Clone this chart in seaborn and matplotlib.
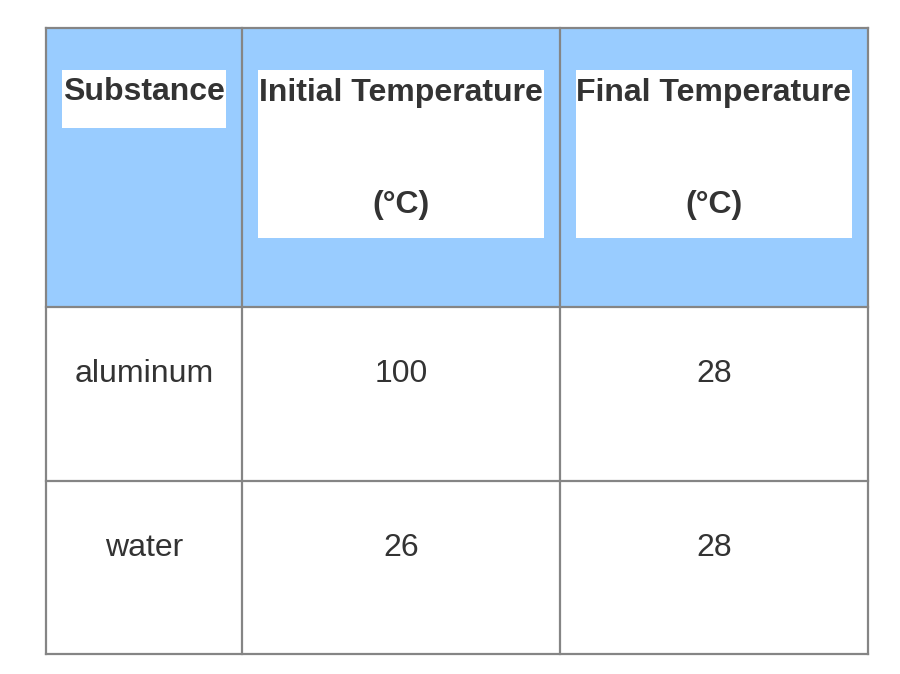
import matplotlib
matplotlib.use("Agg")
import matplotlib.pyplot as plt
from matplotlib.patches import Rectangle
import seaborn as sns

sns.set_theme(style="white")
plt.rcParams["font.family"] = ["Liberation Sans", "DejaVu Sans"]

# table content
header_top = ["Substance", "Initial Temperature", "Final Temperature"]
header_units = ["", "(°C)", "(°C)"]
substances = ["aluminum", "water"]
initial_temps = [100, 26]
final_temps = [28, 28]

# layout in pixels
col_edges = [46, 242, 560, 868]
row_edges = [28, 307, 481, 654]
highlight = [(62, 226, 70, 128), (258, 544, 70, 238), (576, 852, 70, 238)]
HEAD_BG = "#99CCFF"
BORDER = "#858585"
TXT = "#333333"
FS = 23

fig = plt.figure(figsize=(9, 6.74), dpi=100)
ax = fig.add_axes([0, 0, 1, 1])
ax.set_xlim(0, 900)
ax.set_ylim(674, 0)
ax.axis("off")

# header background
ax.add_patch(Rectangle((col_edges[0], row_edges[0]), col_edges[-1] - col_edges[0],
                       row_edges[1] - row_edges[0], facecolor=HEAD_BG, edgecolor="none"))
for x0, x1, y0, y1 in highlight:
    ax.add_patch(Rectangle((x0, y0), x1 - x0, y1 - y0, facecolor="white", edgecolor="none"))

# grid lines
for x in col_edges:
    ax.plot([x, x], [row_edges[0], row_edges[-1]], color=BORDER, lw=1.6, solid_capstyle="projecting")
for y in row_edges:
    ax.plot([col_edges[0], col_edges[-1]], [y, y], color=BORDER, lw=1.6, solid_capstyle="projecting")

centers = [(col_edges[i] + col_edges[i + 1]) / 2 for i in range(3)]
centers[0] = 144

for c, top, unit in zip(centers, header_top, header_units):
    ax.text(c, 89, top, ha="center", va="center_baseline", fontsize=FS,
            fontweight="bold", color=TXT)
    if unit:
        ax.text(c, 201, unit, ha="center", va="center_baseline", fontsize=FS,
                fontweight="bold", color=TXT)

rows_y = [371, 544]
for y, name, t0, t1 in zip(rows_y, substances, initial_temps, final_temps):
    for c, val in zip(centers, [name, str(t0), str(t1)]):
        ax.text(c, y, val, ha="center", va="center_baseline", fontsize=FS, color=TXT)

fig.savefig("out.png", dpi=100, facecolor="white")
